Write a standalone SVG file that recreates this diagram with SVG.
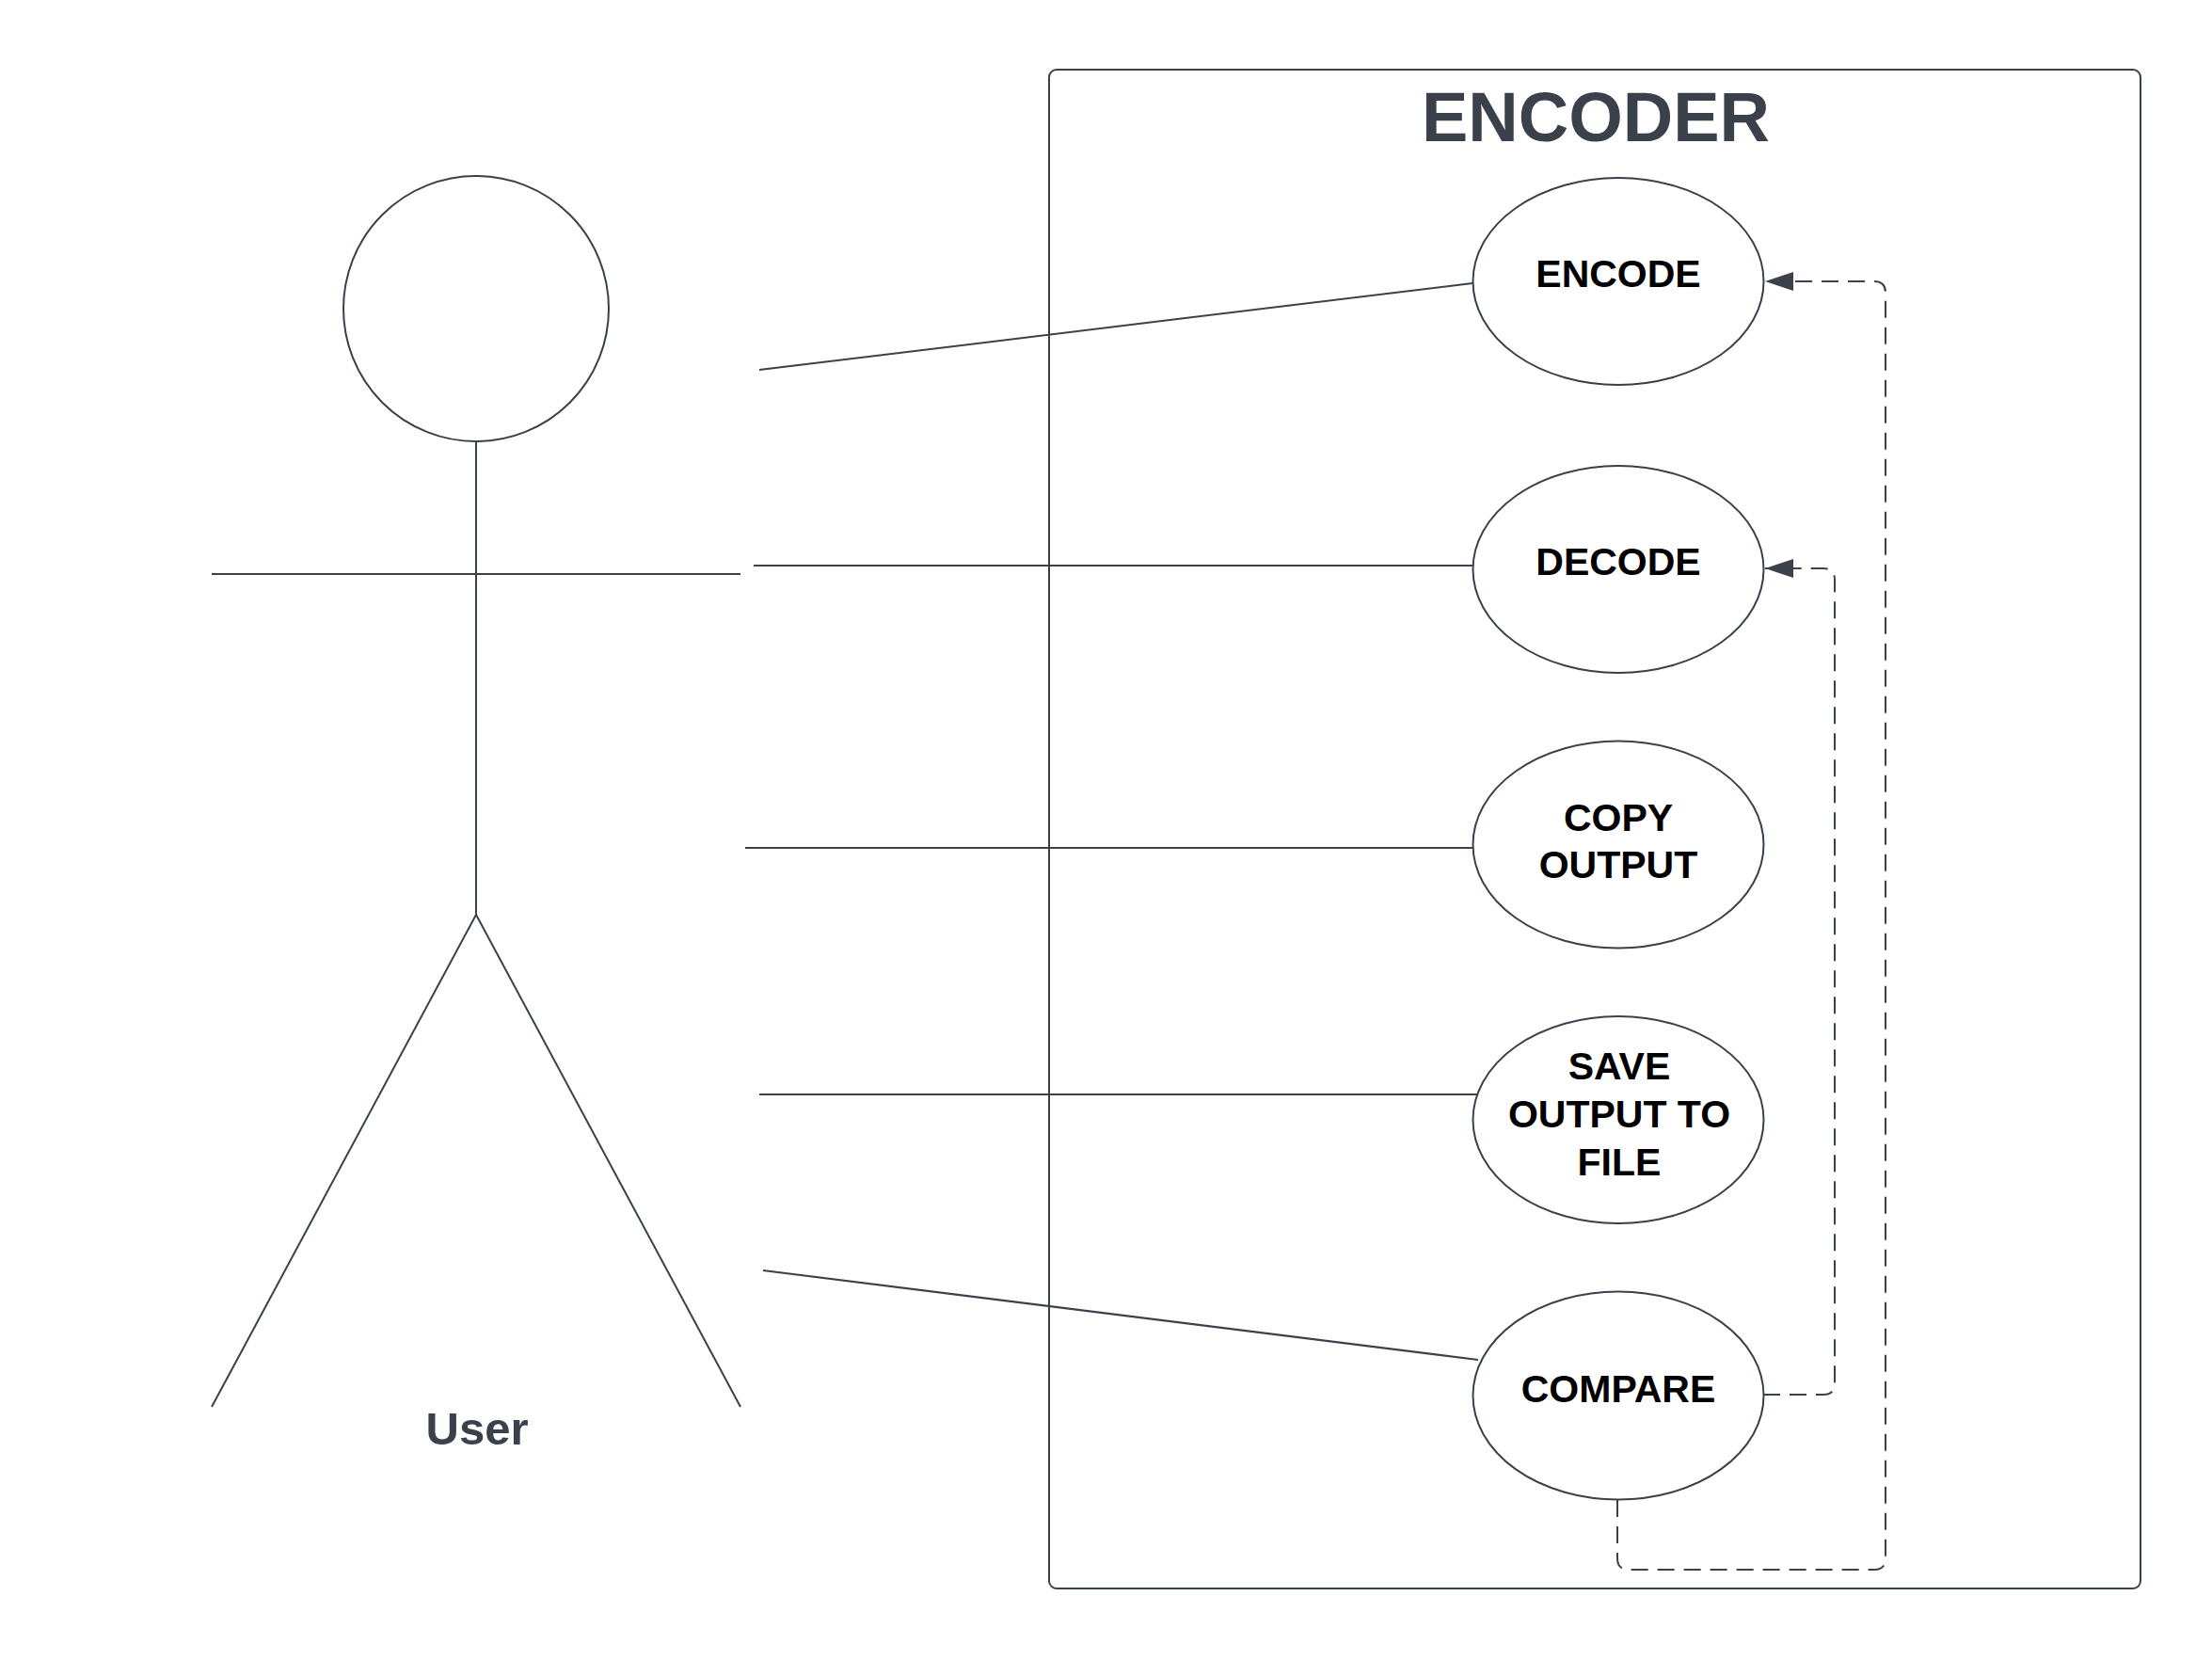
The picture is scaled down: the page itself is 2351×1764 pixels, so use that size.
<svg xmlns="http://www.w3.org/2000/svg" width="2351" height="1764" viewBox="0 0 2351 1764">
<style>
.ln{stroke:#3a414a;stroke-width:2;fill:none}
.dash{stroke:#3a414a;stroke-width:2;fill:none;stroke-dasharray:18 10}
.uc{fill:#ffffff;stroke:#3a414a;stroke-width:2}
.lbl{font-family:"Liberation Sans",Arial,sans-serif;font-weight:bold;font-size:41px;fill:#000000;text-anchor:middle}
.ttl{font-family:"Liberation Sans",Arial,sans-serif;font-weight:bold;fill:#3a414a;text-anchor:middle}
</style>
<defs>
<marker id="arr" markerWidth="30" markerHeight="20" refX="30" refY="10" orient="auto" markerUnits="userSpaceOnUse">
<path d="M0,0 L30,10 L0,20 Z" fill="#3a414a"/>
</marker>
</defs>
<rect width="2351" height="1764" fill="#ffffff"/>
<g id="system">
<rect x="1115" y="74" width="1160" height="1614" rx="8" ry="8" class="ln"/>
<text x="1696" y="150" class="ttl" font-size="74">ENCODER</text>
</g>
<g id="actor-user">
<circle cx="506" cy="328" r="141" class="ln"/>
<line x1="506" y1="469" x2="506" y2="972" class="ln"/>
<line x1="225" y1="610" x2="787" y2="610" class="ln"/>
<line x1="506" y1="972" x2="225" y2="1495" class="ln"/>
<line x1="506" y1="972" x2="787" y2="1495" class="ln"/>
<text x="507" y="1535" class="ttl" font-size="49">User</text>
</g>
<g id="connectors">
<line x1="807" y1="393" x2="1565" y2="301" class="ln"/>
<line x1="801" y1="601" x2="1565" y2="601" class="ln"/>
<line x1="792" y1="901" x2="1565" y2="901" class="ln"/>
<line x1="807" y1="1163" x2="1570" y2="1163" class="ln"/>
<line x1="811" y1="1350" x2="1571" y2="1445" class="ln"/>
<path d="M1874 1482 H1938 Q1950 1482 1950 1470 V616 Q1950 604 1938 604 H1876" class="dash" marker-end="url(#arr)"/>
<path d="M1719 1594 V1656 Q1719 1668 1731 1668 H1992 Q2004 1668 2004 1656 V311 Q2004 299 1992 299 H1876" class="dash" marker-end="url(#arr)"/>
</g>
<g id="uc-encode">
<ellipse cx="1720" cy="299" rx="154.5" ry="110" class="uc"/>
<text x="1720" y="305" class="lbl">ENCODE</text>
</g>
<g id="uc-decode">
<ellipse cx="1720" cy="605" rx="154.5" ry="110" class="uc"/>
<text x="1720" y="611" class="lbl">DECODE</text>
</g>
<g id="uc-copy">
<ellipse cx="1720" cy="897.5" rx="154.5" ry="110" class="uc"/>
<text x="1720" y="883" class="lbl">COPY</text>
<text x="1720" y="933" class="lbl">OUTPUT</text>
</g>
<g id="uc-save">
<ellipse cx="1720" cy="1190" rx="154.5" ry="110" class="uc"/>
<text x="1721" y="1147" class="lbl">SAVE</text>
<text x="1721" y="1198" class="lbl">OUTPUT TO</text>
<text x="1721" y="1249" class="lbl">FILE</text>
</g>
<g id="uc-compare">
<ellipse cx="1720" cy="1483" rx="154.5" ry="110.5" class="uc"/>
<text x="1720" y="1490" class="lbl">COMPARE</text>
</g>
</svg>
